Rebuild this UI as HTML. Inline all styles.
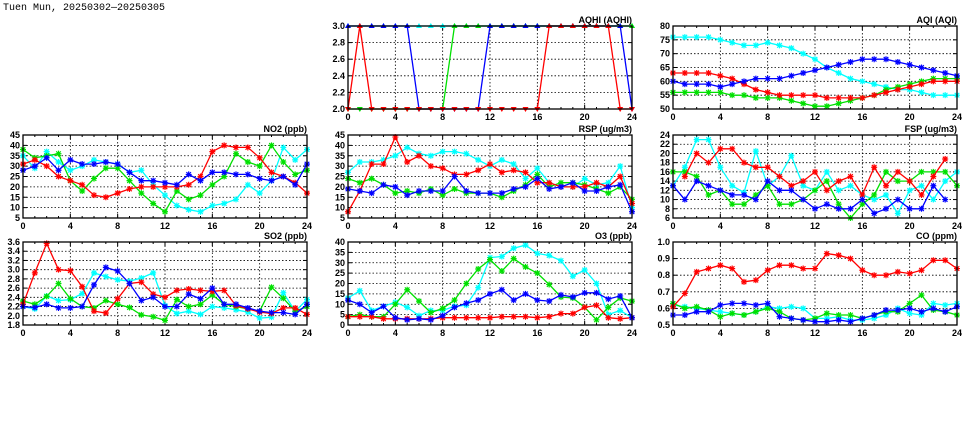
<!DOCTYPE html>
<html><head><meta charset="utf-8"><style>
body{margin:0;background:#fff;width:975px;height:447px;overflow:hidden}
svg{display:block}
text{font-family:"Liberation Sans",sans-serif;font-weight:bold;font-size:9px;fill:#000}
</style></head><body>
<svg id="s" width="975" height="447" xmlns="http://www.w3.org/2000/svg">
<text x="3" y="10" style="font-family:'Liberation Mono',monospace;font-size:10px;font-weight:normal">Tuen Mun, 20250302—20250305</text>
</svg>
<script>
const C=['#ff0000','#00e000','#00ffff','#0000ff'];
const cols=[23,348,673],rows=[26,135,242],W=284,H=83;
const P=[
{c:1,r:0,t:'AQHI (AQHI)',lo:2,hi:3,st:0.2,dec:1,tri:1,d:[
[2,3,2,2,2,2,2,2,2,2,2,2,2,2,2,2,2,3,3,3,3,3,3,2,2],
[2,2,2,2,2,2,2,2,2,3,3,3,3,3,3,3,3,3,3,3,3,3,3,3,3],
[3,3,3,3,3,3,3,3,3,3,3,3,3,3,3,3,3,3,3,3,3,3,3,3,3],
[3,3,3,3,3,3,2,2,2,2,2,2,3,3,3,3,3,3,3,3,3,3,3,3,2]],ord:[2,1,3,0]},
{c:2,r:0,t:'AQI (AQI)',lo:50,hi:80,st:5,dec:0,d:[
[63,63,63,63,62,61,59,57,56,55,55,55,55,54,54,54,54,55,56,57,58,59,60,60,60],
[56,56,56,56,56,55,55,54,54,54,53,52,51,51,52,53,54,55,57,58,59,60,61,61,61],
[76,76,76,76,75,74,73,73,74,73,72,70,68,65,63,61,60,59,58,57,57,56,55,55,55],
[60,59,59,59,58,59,60,61,61,61,62,63,64,65,66,67,68,68,68,67,66,65,64,63,62]]},
{c:0,r:1,t:'NO2 (ppb)',lo:5,hi:45,st:5,dec:0,d:[
[31,33,30,25,23,21,16,15,17,19,20,20,20,20,21,25,37,40,39,39,34,27,25,22,17],
[38,34,35,36,23,18,24,29,29,23,17,12,8,18,14,16,21,25,36,32,30,40,32,26,28],
[35,29,37,32,28,30,33,32,31,27,28,21,16,11,9,8,11,12,14,21,17,23,39,33,38],
[28,30,34,28,33,31,31,32,31,27,23,23,22,21,26,23,27,27,26,26,24,23,25,21,31]]},
{c:1,r:1,t:'RSP (ug/m3)',lo:5,hi:45,st:5,dec:0,d:[
[8,18,31,31,44,32,35,30,29,26,26,28,31,27,28,27,22,22,20,20,20,22,20,25,12],
[24,22,24,21,17,18,17,19,16,19,17,17,17,15,18,21,26,20,22,22,21,19,17,20,14],
[27,32,32,33,35,39,36,35,37,37,36,33,30,33,31,24,29,22,20,20,24,21,22,30,10],
[19,18,17,21,20,16,18,18,18,25,18,17,17,17,19,20,24,19,20,22,18,18,20,21,8]]},
{c:2,r:1,t:'FSP (ug/m3)',lo:6,hi:24,st:2,dec:0,d:[
[null,15,20,18,21,21,18,17,17,15,13,14,16,12,14,15,11,17,13,16,14,11,15,18.8,null],
[16,16,15,11,12,9,9,11,13,9,9,10,12,14,9,6,9,11,16,14,14,16,16,16,13],
[13,17,23,23,17,13,11.5,20.5,13,15,19.5,13,12,16,12,13,11,10,11,7,12,13,10,14,16],
[13,10,14,13,12,11,11,10,14,12,12,10,8,9,8,8,10,7,8,10,8,8,13,10,null]]},
{c:0,r:2,t:'SO2 (ppb)',lo:1.8,hi:3.6,st:0.2,dec:1,d:[
[2.25,2.93,3.57,3.0,2.98,2.63,2.1,2.06,2.37,2.7,2.73,2.47,2.4,2.55,2.58,2.55,2.53,2.55,2.22,2.15,2.08,2.05,2.17,2.17,2.03],
[2.32,2.25,2.42,2.7,2.37,2.2,2.17,2.33,2.25,2.18,2.02,1.98,1.9,2.35,2.2,2.25,2.45,2.25,2.2,2.15,2.1,2.62,2.38,2.1,2.2],
[2.2,2.15,2.43,2.33,2.35,2.48,2.93,2.85,2.78,2.75,2.82,2.93,2.22,2.05,2.1,2.03,2.2,2.17,2.13,2.08,1.95,1.97,2.5,2.1,2.35],
[2.2,2.18,2.25,2.17,2.17,2.2,2.67,3.05,2.97,2.7,2.33,2.4,2.2,2.2,2.47,2.37,2.6,2.25,2.25,2.17,2.1,2.07,2.07,2.03,2.25]]},
{c:1,r:2,t:'O3 (ppb)',lo:0,hi:40,st:5,dec:0,d:[
[4,4,4,3,3,3,3,3,3.5,3.5,3.5,3.5,3.5,4,4,4,3.5,4,5.5,5.5,8.5,9.5,3.5,3,3.5],
[4,5,4,4,10,17,11.5,6,8,12,20,27,31.5,26,32,28,25,19.5,13.5,13,8.5,2.5,8.5,13,11.5],
[13,16.5,7,9,11,8.5,4.5,7,7,9,9.5,18,32.5,33,37,38.5,34.5,33.5,31,23.5,26.5,20,5,7,3.5],
[12,10,6,9,3.5,2.5,3,2.5,4.5,8.5,10.5,12,15,17,12,15,12,11.5,14.5,13.5,15.5,15.5,12.5,14,3.5]]},
{c:2,r:2,t:'CO (ppm)',lo:0.5,hi:1.0,st:0.1,dec:1,d:[
[0.61,0.69,0.82,0.84,0.86,0.84,0.76,0.77,0.83,0.86,0.86,0.84,0.84,0.93,0.92,0.9,0.83,0.8,0.8,0.82,0.81,0.83,0.89,0.89,0.84],
[0.63,0.6,0.61,0.59,0.55,0.57,0.56,0.58,0.6,0.58,0.54,0.53,0.54,0.57,0.56,0.56,0.54,0.56,0.58,0.58,0.63,0.68,0.59,0.58,0.56],
[0.62,0.61,0.6,0.59,0.58,0.57,0.56,0.58,0.61,0.6,0.61,0.6,0.54,0.54,0.55,0.53,0.53,0.54,0.56,0.6,0.57,0.56,0.63,0.62,0.63],
[0.56,0.56,0.58,0.58,0.62,0.63,0.63,0.62,0.63,0.55,0.54,0.53,0.52,0.52,0.53,0.52,0.54,0.56,0.59,0.59,0.6,0.58,0.6,0.58,0.61]]}
];
let o='';
for(const p of P){
 const x0=cols[p.c],y0=rows[p.r];
 const X=i=>x0+i*W/24, Y=v=>y0+H-(v-p.lo)/(p.hi-p.lo)*H;
 // grid
 for(let i=4;i<24;i+=4)o+=`<line x1="${X(i)}" y1="${y0}" x2="${X(i)}" y2="${y0+H}" stroke="#000" stroke-width="0.8" stroke-dasharray="1.5,2"/>`;
 const n=Math.round((p.hi-p.lo)/p.st);
 for(let k=0;k<=n;k++){const v=p.lo+k*p.st,y=Y(v);
  if(k>0&&k<n)o+=`<line x1="${x0}" y1="${y}" x2="${x0+W}" y2="${y}" stroke="#000" stroke-width="0.8" stroke-dasharray="1.5,2"/>`;
  o+=`<line x1="${x0}" y1="${y}" x2="${x0+4}" y2="${y}" stroke="#000"/><line x1="${x0+W-4}" y1="${y}" x2="${x0+W}" y2="${y}" stroke="#000"/>`;
  o+=`<text x="${x0-3}" y="${y+3}" text-anchor="end">${v.toFixed(p.dec)}</text>`;}
 for(let i=0;i<=24;i++){const l=i%4?2:4;o+=`<line x1="${X(i)}" y1="${y0+H}" x2="${X(i)}" y2="${y0+H-l}" stroke="#000"/><line x1="${X(i)}" y1="${y0}" x2="${X(i)}" y2="${y0+l}" stroke="#000"/>`;
  if(i%4==0)o+=`<text x="${X(i)}" y="${y0+H+11}" text-anchor="middle">${i}</text>`;}
 o+=`<text x="${x0+W}" y="${y0-3}" text-anchor="end">${p.t}</text>`;
 const ord=p.ord||[2,1,0,3];
 for(const s of ord){const d=p.d[s],col=C[s];let path='',pen=false;
  d.forEach((v,i)=>{if(v==null){pen=false;return;}path+=(pen?'L':'M')+X(i).toFixed(1)+','+Y(v).toFixed(1);pen=true;});
  o+=`<path d="${path}" fill="none" stroke="${col}" stroke-width="1.3"/>`;
  d.forEach((v,i)=>{if(v==null)return;const x=X(i),y=Y(v);
   if(p.tri){o+=v>2.5?`<path d="M${x-3},${y+2}L${x+3},${y+2}L${x},${y-3}Z" fill="${col}"/>`:`<path d="M${x-3},${y-2}L${x+3},${y-2}L${x},${y+3}Z" fill="${col}"/>`;}
   else o+=`<path d="M${x-3},${y}H${x+3}M${x},${y-3}V${y+3}M${x-2.3},${y-2.3}L${x+2.3},${y+2.3}M${x-2.3},${y+2.3}L${x+2.3},${y-2.3}" stroke="${col}" stroke-width="1.2"/>`;});
 }
 o+=`<rect x="${x0}" y="${y0}" width="${W}" height="${H}" fill="none" stroke="#000" stroke-width="1.3"/>`;
}
document.getElementById('s').insertAdjacentHTML('beforeend',o);
</script>
</body></html>
